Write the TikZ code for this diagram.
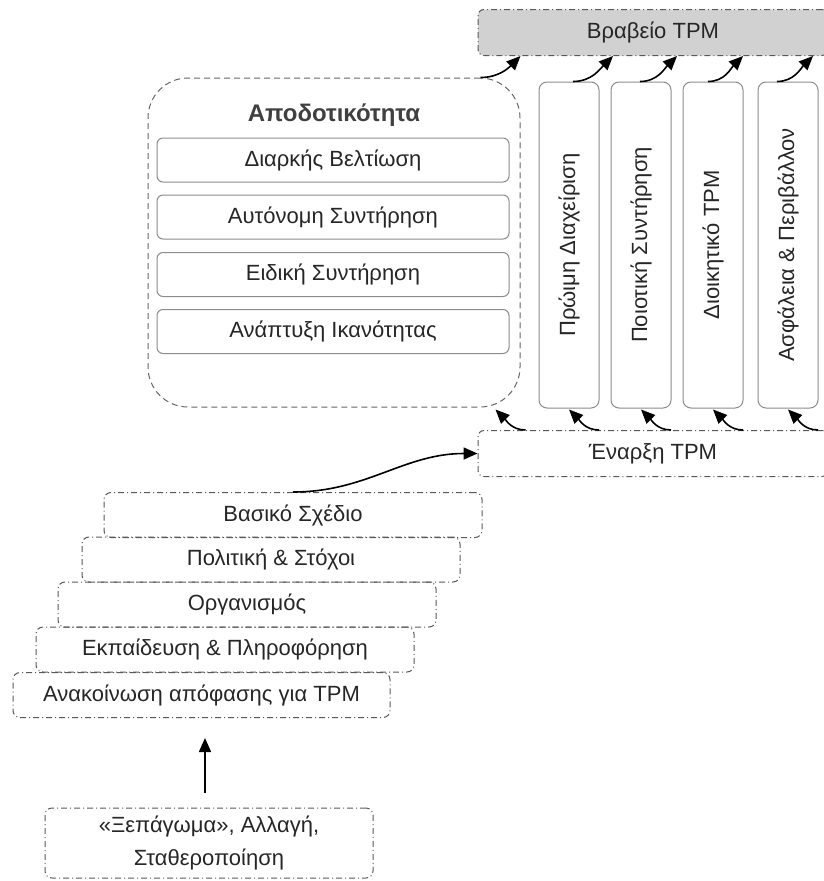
\documentclass[tikz,border=0pt]{standalone}
\usepackage{fontspec}
\setmainfont{Liberation Sans}
\usepackage{xcolor}
\usepackage{graphicx}
\usetikzlibrary{arrows.meta}

\begin{document}
\begin{tikzpicture}[x=1pt, y=1pt, font=\fontsize{22}{33}\selectfont, text=black!85,
  flow/.style={-{Triangle[length=14pt,width=12pt]}, line width=1.6pt},
  stage/.style={draw=black!65, line width=1pt, dash pattern=on 6pt off 3pt on 1pt off 3pt,
    rounded corners=7pt, minimum width=378pt, minimum height=45pt, inner sep=0pt},
  band/.style={draw=black!65, line width=1pt, dash pattern=on 6pt off 3pt on 1pt off 3pt,
    rounded corners=6pt, minimum width=350pt, minimum height=46pt, inner sep=0pt},
  item/.style={draw=black!45, line width=1pt, rounded corners=6pt,
    minimum width=352pt, minimum height=44pt, inner sep=0pt},
  pillar/.style={draw=black!45, line width=1pt, rounded corners=8pt,
    minimum width=60pt, minimum height=326pt, inner sep=0pt}]
\useasboundingbox (0,0) rectangle (824,-881);

% top and bottom bands
\node[band, fill=black!18] (award) at (653,-32.5) {Βραβείο TPM};
\node[band] (launch) at (653,-453.5) {Έναρξη TPM};

% efficiency block
\node[draw=black!60, line width=1pt, dash pattern=on 6pt off 4pt, rounded corners=40pt,
      minimum width=372pt, minimum height=329pt] (eff) at (334,-242.5) {};
\node[font=\fontsize{24}{28}\selectfont\bfseries, text=black!75] (efftitle) at (334,-115) {Αποδοτικότητα};
\node[item] (cont) at (333,-160) {Διαρκής Βελτίωση};
\node[item] (auto) at (333,-217) {Αυτόνομη Συντήρηση};
\node[item] (spec) at (333,-274.5) {Ειδική Συντήρηση};
\node[item] (skill) at (333,-331.5) {Ανάπτυξη Ικανότητας};

% pillars
\node[pillar] (p1) at (569,-245) {\rotatebox{90}{Πρώιμη Διαχείριση}};
\node[pillar] (p2) at (641,-245) {\rotatebox{90}{Ποιοτική Συντήρηση}};
\node[pillar] (p3) at (713,-245) {\rotatebox{90}{Διοικητικό TPM}};
\node[pillar] (p4) at (788,-245) {\rotatebox{90}{Ασφάλεια \& Περιβάλλον}};

\foreach \p/\a/\b in {p1/4/44, p2/-1/36, p3/-5/30, p4/-11/25}{
  \draw[flow] ([xshift=\a pt]\p.north) to[out=0,in=-135] ([xshift=\b pt]\p.north |- award.south);
  \draw[flow] ([xshift=30pt]\p.south |- launch.north) to[out=180,in=-45] ([yshift=-1pt]\p.south);
}
\draw[flow] ([xshift=-40pt]eff.north east) to[out=0,in=-135] (eff.north east |- award.south);
\draw[flow] ([xshift=5pt]eff.south east |- launch.north) to[out=180,in=-45] ([xshift=-25pt,yshift=-2pt]eff.south east);

% stairs
\node[stage] (plan) at (293,-515) {Βασικό Σχέδιο};
\node[stage] (policy) at (271,-559.5) {Πολιτική \& Στόχοι};
\node[stage] (org) at (247,-604.5) {Οργανισμός};
\node[stage] (training) at (225,-649.5) {Εκπαίδευση \& Πληροφόρηση};
\node[stage, minimum width=377pt] (announce) at (201.5,-695) {Ανακοίνωση απόφασης για TPM};

\node[stage, minimum width=328pt, minimum height=70pt, align=center] (base) at (209,-843)
  {«Ξεπάγωμα», Αλλαγή,\\Σταθεροποίηση};

\draw[flow] (plan.north) to[out=0,in=180] (launch.west);
\draw[flow, shorten <=15pt, shorten >=20pt] ([xshift=-4pt]base.north) -- ([xshift=-4pt]base.north |- announce.south);
\end{tikzpicture}
\end{document}
